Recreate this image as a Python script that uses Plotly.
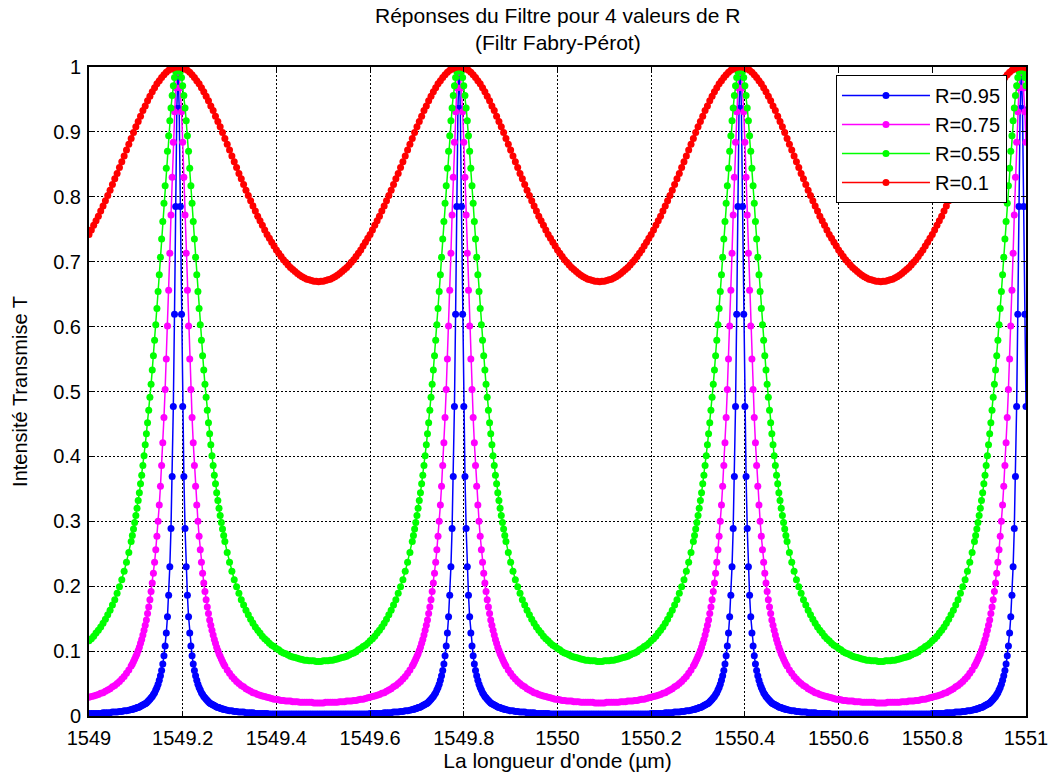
import plotly.graph_objects as go

# ---------------- data ----------------
lambda_start = 1549.0      # µm
lambda_step = 0.005        # µm between regular samples
n_points = 401
wavelength = [round(lambda_start + i * lambda_step, 4) for i in range(n_points)]

series_labels = ["R=0.95", "R=0.75", "R=0.55", "R=0.1"]
series_colors = ["#0000FF", "#FF00FF", "#00FF00", "#FF0000"]

# transmission on the regular grid
T_R095 = [
    0.004, 0.004, 0.004, 0.004, 0.004, 0.004, 0.005, 0.005, 0.005, 0.005,
    0.006, 0.006, 0.006, 0.007, 0.007, 0.008, 0.008, 0.009, 0.010, 0.011,
    0.012, 0.013, 0.015, 0.017, 0.019, 0.022, 0.026, 0.030, 0.036, 0.044,
    0.055, 0.070, 0.093, 0.128, 0.186, 0.289, 0.477, 0.785, 1.000,
    0.785, 0.477, 0.289, 0.186, 0.128, 0.093, 0.070, 0.055, 0.044, 0.036,
    0.030, 0.026, 0.022, 0.019, 0.017, 0.015, 0.013, 0.012, 0.011, 0.010,
    0.009, 0.008, 0.008, 0.007, 0.007, 0.006, 0.006, 0.006, 0.005, 0.005,
    0.005, 0.005, 0.004, 0.004, 0.004, 0.004, 0.004, 0.004, 0.003, 0.003,
    0.003, 0.003, 0.003, 0.003, 0.003, 0.003, 0.003, 0.003, 0.003, 0.003,
    0.003, 0.003, 0.003, 0.003, 0.003, 0.003, 0.003, 0.003, 0.003, 0.003,
    0.003, 0.003, 0.003, 0.003, 0.003, 0.003, 0.003, 0.003, 0.003, 0.003,
    0.003, 0.003, 0.003, 0.003, 0.003, 0.003, 0.003, 0.003, 0.003, 0.003,
    0.003, 0.004, 0.004, 0.004, 0.004, 0.004, 0.004, 0.005, 0.005, 0.005,
    0.005, 0.006, 0.006, 0.006, 0.007, 0.007, 0.008, 0.008, 0.009, 0.010,
    0.011, 0.012, 0.013, 0.015, 0.017, 0.019, 0.022, 0.026, 0.030, 0.036,
    0.044, 0.055, 0.070, 0.093, 0.128, 0.186, 0.289, 0.477, 0.785, 1.000,
    0.785, 0.477, 0.289, 0.186, 0.128, 0.093, 0.070, 0.055, 0.044, 0.036,
    0.030, 0.026, 0.022, 0.019, 0.017, 0.015, 0.013, 0.012, 0.011, 0.010,
    0.009, 0.008, 0.008, 0.007, 0.007, 0.006, 0.006, 0.006, 0.005, 0.005,
    0.005, 0.005, 0.004, 0.004, 0.004, 0.004, 0.004, 0.004, 0.003, 0.003,
    0.003, 0.003, 0.003, 0.003, 0.003, 0.003, 0.003, 0.003, 0.003, 0.003,
    0.003, 0.003, 0.003, 0.003, 0.003, 0.003, 0.003, 0.003, 0.003, 0.003,
    0.003, 0.003, 0.003, 0.003, 0.003, 0.003, 0.003, 0.003, 0.003, 0.003,
    0.003, 0.003, 0.003, 0.003, 0.003, 0.003, 0.003, 0.003, 0.003, 0.003,
    0.003, 0.004, 0.004, 0.004, 0.004, 0.004, 0.004, 0.005, 0.005, 0.005,
    0.005, 0.006, 0.006, 0.006, 0.007, 0.007, 0.008, 0.008, 0.009, 0.010,
    0.011, 0.012, 0.013, 0.015, 0.017, 0.019, 0.022, 0.026, 0.030, 0.036,
    0.044, 0.055, 0.070, 0.093, 0.128, 0.186, 0.289, 0.477, 0.785, 1.000,
    0.785, 0.477, 0.289, 0.186, 0.128, 0.093, 0.070, 0.055, 0.044, 0.036,
    0.030, 0.026, 0.022, 0.019, 0.017, 0.015, 0.013, 0.012, 0.011, 0.010,
    0.009, 0.008, 0.008, 0.007, 0.007, 0.006, 0.006, 0.006, 0.005, 0.005,
    0.005, 0.005, 0.004, 0.004, 0.004, 0.004, 0.004, 0.004, 0.003, 0.003,
    0.003, 0.003, 0.003, 0.003, 0.003, 0.003, 0.003, 0.003, 0.003, 0.003,
    0.003, 0.003, 0.003, 0.003, 0.003, 0.003, 0.003, 0.003, 0.003, 0.003,
    0.003, 0.003, 0.003, 0.003, 0.003, 0.003, 0.003, 0.003, 0.003, 0.003,
    0.003, 0.003, 0.003, 0.003, 0.003, 0.003, 0.003, 0.003, 0.003, 0.003,
    0.003, 0.004, 0.004, 0.004, 0.004, 0.004, 0.004, 0.005, 0.005, 0.005,
    0.005, 0.006, 0.006, 0.006, 0.007, 0.007, 0.008, 0.008, 0.009, 0.010,
    0.011, 0.012, 0.013, 0.015, 0.017, 0.019, 0.022, 0.026, 0.030, 0.036,
    0.044, 0.055, 0.070, 0.093, 0.128, 0.186, 0.289, 0.477, 0.785, 1.000,
    0.785, 0.477,
]

T_R075 = [
    0.029, 0.030, 0.031, 0.032, 0.033, 0.035, 0.036, 0.038, 0.040, 0.042,
    0.045, 0.047, 0.050, 0.053, 0.057, 0.061, 0.066, 0.071, 0.077, 0.084,
    0.092, 0.101, 0.112, 0.125, 0.140, 0.158, 0.179, 0.205, 0.237, 0.277,
    0.325, 0.386, 0.460, 0.550, 0.656, 0.772, 0.884, 0.968, 1.000,
    0.968, 0.884, 0.772, 0.656, 0.550, 0.460, 0.386, 0.325, 0.277, 0.237,
    0.205, 0.179, 0.158, 0.140, 0.125, 0.112, 0.101, 0.092, 0.084, 0.077,
    0.071, 0.066, 0.061, 0.057, 0.053, 0.050, 0.047, 0.045, 0.042, 0.040,
    0.038, 0.036, 0.035, 0.033, 0.032, 0.031, 0.030, 0.029, 0.028, 0.027,
    0.026, 0.026, 0.025, 0.024, 0.024, 0.023, 0.023, 0.023, 0.022, 0.022,
    0.022, 0.021, 0.021, 0.021, 0.021, 0.021, 0.021, 0.020, 0.020, 0.020,
    0.020, 0.020, 0.021, 0.021, 0.021, 0.021, 0.021, 0.021, 0.022, 0.022,
    0.022, 0.023, 0.023, 0.023, 0.024, 0.024, 0.025, 0.026, 0.026, 0.027,
    0.028, 0.029, 0.030, 0.031, 0.032, 0.033, 0.035, 0.036, 0.038, 0.040,
    0.042, 0.045, 0.047, 0.050, 0.053, 0.057, 0.061, 0.066, 0.071, 0.077,
    0.084, 0.092, 0.101, 0.112, 0.125, 0.140, 0.158, 0.179, 0.205, 0.237,
    0.277, 0.325, 0.386, 0.460, 0.550, 0.656, 0.772, 0.884, 0.968, 1.000,
    0.968, 0.884, 0.772, 0.656, 0.550, 0.460, 0.386, 0.325, 0.277, 0.237,
    0.205, 0.179, 0.158, 0.140, 0.125, 0.112, 0.101, 0.092, 0.084, 0.077,
    0.071, 0.066, 0.061, 0.057, 0.053, 0.050, 0.047, 0.045, 0.042, 0.040,
    0.038, 0.036, 0.035, 0.033, 0.032, 0.031, 0.030, 0.029, 0.028, 0.027,
    0.026, 0.026, 0.025, 0.024, 0.024, 0.023, 0.023, 0.023, 0.022, 0.022,
    0.022, 0.021, 0.021, 0.021, 0.021, 0.021, 0.021, 0.020, 0.020, 0.020,
    0.020, 0.020, 0.021, 0.021, 0.021, 0.021, 0.021, 0.021, 0.022, 0.022,
    0.022, 0.023, 0.023, 0.023, 0.024, 0.024, 0.025, 0.026, 0.026, 0.027,
    0.028, 0.029, 0.030, 0.031, 0.032, 0.033, 0.035, 0.036, 0.038, 0.040,
    0.042, 0.045, 0.047, 0.050, 0.053, 0.057, 0.061, 0.066, 0.071, 0.077,
    0.084, 0.092, 0.101, 0.112, 0.125, 0.140, 0.158, 0.179, 0.205, 0.237,
    0.277, 0.325, 0.386, 0.460, 0.550, 0.656, 0.772, 0.884, 0.968, 1.000,
    0.968, 0.884, 0.772, 0.656, 0.550, 0.460, 0.386, 0.325, 0.277, 0.237,
    0.205, 0.179, 0.158, 0.140, 0.125, 0.112, 0.101, 0.092, 0.084, 0.077,
    0.071, 0.066, 0.061, 0.057, 0.053, 0.050, 0.047, 0.045, 0.042, 0.040,
    0.038, 0.036, 0.035, 0.033, 0.032, 0.031, 0.030, 0.029, 0.028, 0.027,
    0.026, 0.026, 0.025, 0.024, 0.024, 0.023, 0.023, 0.023, 0.022, 0.022,
    0.022, 0.021, 0.021, 0.021, 0.021, 0.021, 0.021, 0.020, 0.020, 0.020,
    0.020, 0.020, 0.021, 0.021, 0.021, 0.021, 0.021, 0.021, 0.022, 0.022,
    0.022, 0.023, 0.023, 0.023, 0.024, 0.024, 0.025, 0.026, 0.026, 0.027,
    0.028, 0.029, 0.030, 0.031, 0.032, 0.033, 0.035, 0.036, 0.038, 0.040,
    0.042, 0.045, 0.047, 0.050, 0.053, 0.057, 0.061, 0.066, 0.071, 0.077,
    0.084, 0.092, 0.101, 0.112, 0.125, 0.140, 0.158, 0.179, 0.205, 0.237,
    0.277, 0.325, 0.386, 0.460, 0.550, 0.656, 0.772, 0.884, 0.968, 1.000,
    0.968, 0.884,
]

T_R055 = [
    0.116, 0.119, 0.123, 0.128, 0.132, 0.137, 0.143, 0.149, 0.156, 0.163,
    0.171, 0.179, 0.189, 0.199, 0.210, 0.223, 0.237, 0.252, 0.269, 0.288,
    0.309, 0.332, 0.358, 0.386, 0.418, 0.452, 0.491, 0.533, 0.579, 0.628,
    0.680, 0.735, 0.790, 0.844, 0.894, 0.937, 0.971, 0.993, 1.000,
    0.993, 0.971, 0.937, 0.894, 0.844, 0.790, 0.735, 0.680, 0.628, 0.579,
    0.533, 0.491, 0.452, 0.418, 0.386, 0.358, 0.332, 0.309, 0.288, 0.269,
    0.252, 0.237, 0.223, 0.210, 0.199, 0.189, 0.179, 0.171, 0.163, 0.156,
    0.149, 0.143, 0.137, 0.132, 0.128, 0.123, 0.119, 0.116, 0.112, 0.109,
    0.107, 0.104, 0.102, 0.099, 0.097, 0.096, 0.094, 0.092, 0.091, 0.090,
    0.089, 0.088, 0.087, 0.086, 0.086, 0.085, 0.085, 0.085, 0.084, 0.084,
    0.084, 0.085, 0.085, 0.085, 0.086, 0.086, 0.087, 0.088, 0.089, 0.090,
    0.091, 0.092, 0.094, 0.096, 0.097, 0.099, 0.102, 0.104, 0.107, 0.109,
    0.112, 0.116, 0.119, 0.123, 0.128, 0.132, 0.137, 0.143, 0.149, 0.156,
    0.163, 0.171, 0.179, 0.189, 0.199, 0.210, 0.223, 0.237, 0.252, 0.269,
    0.288, 0.309, 0.332, 0.358, 0.386, 0.418, 0.452, 0.491, 0.533, 0.579,
    0.628, 0.680, 0.735, 0.790, 0.844, 0.894, 0.937, 0.971, 0.993, 1.000,
    0.993, 0.971, 0.937, 0.894, 0.844, 0.790, 0.735, 0.680, 0.628, 0.579,
    0.533, 0.491, 0.452, 0.418, 0.386, 0.358, 0.332, 0.309, 0.288, 0.269,
    0.252, 0.237, 0.223, 0.210, 0.199, 0.189, 0.179, 0.171, 0.163, 0.156,
    0.149, 0.143, 0.137, 0.132, 0.128, 0.123, 0.119, 0.116, 0.112, 0.109,
    0.107, 0.104, 0.102, 0.099, 0.097, 0.096, 0.094, 0.092, 0.091, 0.090,
    0.089, 0.088, 0.087, 0.086, 0.086, 0.085, 0.085, 0.085, 0.084, 0.084,
    0.084, 0.085, 0.085, 0.085, 0.086, 0.086, 0.087, 0.088, 0.089, 0.090,
    0.091, 0.092, 0.094, 0.096, 0.097, 0.099, 0.102, 0.104, 0.107, 0.109,
    0.112, 0.116, 0.119, 0.123, 0.128, 0.132, 0.137, 0.143, 0.149, 0.156,
    0.163, 0.171, 0.179, 0.189, 0.199, 0.210, 0.223, 0.237, 0.252, 0.269,
    0.288, 0.309, 0.332, 0.358, 0.386, 0.418, 0.452, 0.491, 0.533, 0.579,
    0.628, 0.680, 0.735, 0.790, 0.844, 0.894, 0.937, 0.971, 0.993, 1.000,
    0.993, 0.971, 0.937, 0.894, 0.844, 0.790, 0.735, 0.680, 0.628, 0.579,
    0.533, 0.491, 0.452, 0.418, 0.386, 0.358, 0.332, 0.309, 0.288, 0.269,
    0.252, 0.237, 0.223, 0.210, 0.199, 0.189, 0.179, 0.171, 0.163, 0.156,
    0.149, 0.143, 0.137, 0.132, 0.128, 0.123, 0.119, 0.116, 0.112, 0.109,
    0.107, 0.104, 0.102, 0.099, 0.097, 0.096, 0.094, 0.092, 0.091, 0.090,
    0.089, 0.088, 0.087, 0.086, 0.086, 0.085, 0.085, 0.085, 0.084, 0.084,
    0.084, 0.085, 0.085, 0.085, 0.086, 0.086, 0.087, 0.088, 0.089, 0.090,
    0.091, 0.092, 0.094, 0.096, 0.097, 0.099, 0.102, 0.104, 0.107, 0.109,
    0.112, 0.116, 0.119, 0.123, 0.128, 0.132, 0.137, 0.143, 0.149, 0.156,
    0.163, 0.171, 0.179, 0.189, 0.199, 0.210, 0.223, 0.237, 0.252, 0.269,
    0.288, 0.309, 0.332, 0.358, 0.386, 0.418, 0.452, 0.491, 0.533, 0.579,
    0.628, 0.680, 0.735, 0.790, 0.844, 0.894, 0.937, 0.971, 0.993, 1.000,
    0.993, 0.971,
]

T_R010 = [
    0.742, 0.749, 0.756, 0.763, 0.770, 0.778, 0.786, 0.794, 0.802, 0.810,
    0.819, 0.828, 0.836, 0.845, 0.854, 0.863, 0.872, 0.881, 0.890, 0.899,
    0.908, 0.916, 0.924, 0.933, 0.940, 0.948, 0.955, 0.962, 0.968, 0.974,
    0.979, 0.984, 0.988, 0.992, 0.995, 0.997, 0.999, 1.000, 1.000,
    1.000, 0.999, 0.997, 0.995, 0.992, 0.988, 0.984, 0.979, 0.974, 0.968,
    0.962, 0.955, 0.948, 0.940, 0.933, 0.924, 0.916, 0.908, 0.899, 0.890,
    0.881, 0.872, 0.863, 0.854, 0.845, 0.836, 0.828, 0.819, 0.810, 0.802,
    0.794, 0.786, 0.778, 0.770, 0.763, 0.756, 0.749, 0.742, 0.736, 0.730,
    0.724, 0.718, 0.713, 0.708, 0.703, 0.699, 0.695, 0.691, 0.688, 0.685,
    0.682, 0.679, 0.677, 0.675, 0.673, 0.672, 0.671, 0.670, 0.670, 0.669,
    0.670, 0.670, 0.671, 0.672, 0.673, 0.675, 0.677, 0.679, 0.682, 0.685,
    0.688, 0.691, 0.695, 0.699, 0.703, 0.708, 0.713, 0.718, 0.724, 0.730,
    0.736, 0.742, 0.749, 0.756, 0.763, 0.770, 0.778, 0.786, 0.794, 0.802,
    0.810, 0.819, 0.828, 0.836, 0.845, 0.854, 0.863, 0.872, 0.881, 0.890,
    0.899, 0.908, 0.916, 0.924, 0.933, 0.940, 0.948, 0.955, 0.962, 0.968,
    0.974, 0.979, 0.984, 0.988, 0.992, 0.995, 0.997, 0.999, 1.000, 1.000,
    1.000, 0.999, 0.997, 0.995, 0.992, 0.988, 0.984, 0.979, 0.974, 0.968,
    0.962, 0.955, 0.948, 0.940, 0.933, 0.924, 0.916, 0.908, 0.899, 0.890,
    0.881, 0.872, 0.863, 0.854, 0.845, 0.836, 0.828, 0.819, 0.810, 0.802,
    0.794, 0.786, 0.778, 0.770, 0.763, 0.756, 0.749, 0.742, 0.736, 0.730,
    0.724, 0.718, 0.713, 0.708, 0.703, 0.699, 0.695, 0.691, 0.688, 0.685,
    0.682, 0.679, 0.677, 0.675, 0.673, 0.672, 0.671, 0.670, 0.670, 0.669,
    0.670, 0.670, 0.671, 0.672, 0.673, 0.675, 0.677, 0.679, 0.682, 0.685,
    0.688, 0.691, 0.695, 0.699, 0.703, 0.708, 0.713, 0.718, 0.724, 0.730,
    0.736, 0.742, 0.749, 0.756, 0.763, 0.770, 0.778, 0.786, 0.794, 0.802,
    0.810, 0.819, 0.828, 0.836, 0.845, 0.854, 0.863, 0.872, 0.881, 0.890,
    0.899, 0.908, 0.916, 0.924, 0.933, 0.940, 0.948, 0.955, 0.962, 0.968,
    0.974, 0.979, 0.984, 0.988, 0.992, 0.995, 0.997, 0.999, 1.000, 1.000,
    1.000, 0.999, 0.997, 0.995, 0.992, 0.988, 0.984, 0.979, 0.974, 0.968,
    0.962, 0.955, 0.948, 0.940, 0.933, 0.924, 0.916, 0.908, 0.899, 0.890,
    0.881, 0.872, 0.863, 0.854, 0.845, 0.836, 0.828, 0.819, 0.810, 0.802,
    0.794, 0.786, 0.778, 0.770, 0.763, 0.756, 0.749, 0.742, 0.736, 0.730,
    0.724, 0.718, 0.713, 0.708, 0.703, 0.699, 0.695, 0.691, 0.688, 0.685,
    0.682, 0.679, 0.677, 0.675, 0.673, 0.672, 0.671, 0.670, 0.670, 0.669,
    0.670, 0.670, 0.671, 0.672, 0.673, 0.675, 0.677, 0.679, 0.682, 0.685,
    0.688, 0.691, 0.695, 0.699, 0.703, 0.708, 0.713, 0.718, 0.724, 0.730,
    0.736, 0.742, 0.749, 0.756, 0.763, 0.770, 0.778, 0.786, 0.794, 0.802,
    0.810, 0.819, 0.828, 0.836, 0.845, 0.854, 0.863, 0.872, 0.881, 0.890,
    0.899, 0.908, 0.916, 0.924, 0.933, 0.940, 0.948, 0.955, 0.962, 0.968,
    0.974, 0.979, 0.984, 0.988, 0.992, 0.995, 0.997, 0.999, 1.000, 1.000,
    1.000, 0.999,
]

# extra samples read on the steep flanks around each transmission peak
peak_wavelength = [1549.19, 1549.79, 1550.39, 1550.99]
flank_offsets = [0.0025, 0.0075, 0.0125, 0.0175, 0.0225, 0.0275, 0.0325, 0.0375, 0.0425, 0.0475,
                 0.0525, 0.0575, 0.0625, 0.0675, 0.0725, 0.0775, 0.0825, 0.0875, 0.0925, 0.0975]

flank_T_R095 = [
    0.010, 0.011, 0.013, 0.014, 0.016, 0.018, 0.020, 0.024, 0.028, 0.033, 0.040, 0.049, 0.062, 0.080, 0.108, 0.153, 0.230, 0.369, 0.619, 0.936,
    0.936, 0.619, 0.369, 0.230, 0.153, 0.108, 0.080, 0.062, 0.049, 0.040, 0.033, 0.028, 0.024, 0.020, 0.018, 0.016, 0.014, 0.013, 0.011, 0.010,
    0.010, 0.011, 0.013, 0.014, 0.016, 0.018, 0.020, 0.024, 0.028, 0.033, 0.040, 0.049, 0.062, 0.080, 0.108, 0.153, 0.230, 0.369, 0.619, 0.936,
    0.936, 0.619, 0.369, 0.230, 0.153, 0.108, 0.080, 0.062, 0.049, 0.040, 0.033, 0.028, 0.024, 0.020, 0.018, 0.016, 0.014, 0.013, 0.011, 0.010,
    0.010, 0.011, 0.013, 0.014, 0.016, 0.018, 0.020, 0.024, 0.028, 0.033, 0.040, 0.049, 0.062, 0.080, 0.108, 0.153, 0.230, 0.369, 0.619, 0.936,
    0.936, 0.619, 0.369, 0.230, 0.153, 0.108, 0.080, 0.062, 0.049, 0.040, 0.033, 0.028, 0.024, 0.020, 0.018, 0.016, 0.014, 0.013, 0.011, 0.010,
    0.010, 0.011, 0.013, 0.014, 0.016, 0.018, 0.020, 0.024, 0.028, 0.033, 0.040, 0.049, 0.062, 0.080, 0.108, 0.153, 0.230, 0.369, 0.619, 0.936,
    0.936, 0.619, 0.369, 0.230, 0.153, 0.108, 0.080, 0.062, 0.049, 0.040, 0.033, 0.028, 0.024, 0.020, 0.018, 0.016, 0.014, 0.013, 0.011, 0.010,
]
flank_T_R075 = [
    0.080, 0.088, 0.096, 0.106, 0.118, 0.132, 0.148, 0.168, 0.192, 0.220, 0.256, 0.300, 0.354, 0.421, 0.503, 0.601, 0.713, 0.830, 0.931, 0.992,
    0.992, 0.931, 0.830, 0.713, 0.601, 0.503, 0.421, 0.354, 0.300, 0.256, 0.220, 0.192, 0.168, 0.148, 0.132, 0.118, 0.106, 0.096, 0.088, 0.080,
    0.080, 0.088, 0.096, 0.106, 0.118, 0.132, 0.148, 0.168, 0.192, 0.220, 0.256, 0.300, 0.354, 0.421, 0.503, 0.601, 0.713, 0.830, 0.931, 0.992,
    0.992, 0.931, 0.830, 0.713, 0.601, 0.503, 0.421, 0.354, 0.300, 0.256, 0.220, 0.192, 0.168, 0.148, 0.132, 0.118, 0.106, 0.096, 0.088, 0.080,
    0.080, 0.088, 0.096, 0.106, 0.118, 0.132, 0.148, 0.168, 0.192, 0.220, 0.256, 0.300, 0.354, 0.421, 0.503, 0.601, 0.713, 0.830, 0.931, 0.992,
    0.992, 0.931, 0.830, 0.713, 0.601, 0.503, 0.421, 0.354, 0.300, 0.256, 0.220, 0.192, 0.168, 0.148, 0.132, 0.118, 0.106, 0.096, 0.088, 0.080,
    0.080, 0.088, 0.096, 0.106, 0.118, 0.132, 0.148, 0.168, 0.192, 0.220, 0.256, 0.300, 0.354, 0.421, 0.503, 0.601, 0.713, 0.830, 0.931, 0.992,
    0.992, 0.931, 0.830, 0.713, 0.601, 0.503, 0.421, 0.354, 0.300, 0.256, 0.220, 0.192, 0.168, 0.148, 0.132, 0.118, 0.106, 0.096, 0.088, 0.080,
]
flank_T_R055 = [
    0.278, 0.298, 0.320, 0.344, 0.371, 0.401, 0.435, 0.471, 0.511, 0.555, 0.603, 0.654, 0.707, 0.762, 0.817, 0.870, 0.917, 0.956, 0.984, 0.998,
    0.998, 0.984, 0.956, 0.917, 0.870, 0.817, 0.762, 0.707, 0.654, 0.603, 0.555, 0.511, 0.471, 0.435, 0.401, 0.371, 0.344, 0.320, 0.298, 0.278,
    0.278, 0.298, 0.320, 0.344, 0.371, 0.401, 0.435, 0.471, 0.511, 0.555, 0.603, 0.654, 0.707, 0.762, 0.817, 0.870, 0.917, 0.956, 0.984, 0.998,
    0.998, 0.984, 0.956, 0.917, 0.870, 0.817, 0.762, 0.707, 0.654, 0.603, 0.555, 0.511, 0.471, 0.435, 0.401, 0.371, 0.344, 0.320, 0.298, 0.278,
    0.278, 0.298, 0.320, 0.344, 0.371, 0.401, 0.435, 0.471, 0.511, 0.555, 0.603, 0.654, 0.707, 0.762, 0.817, 0.870, 0.917, 0.956, 0.984, 0.998,
    0.998, 0.984, 0.956, 0.917, 0.870, 0.817, 0.762, 0.707, 0.654, 0.603, 0.555, 0.511, 0.471, 0.435, 0.401, 0.371, 0.344, 0.320, 0.298, 0.278,
    0.278, 0.298, 0.320, 0.344, 0.371, 0.401, 0.435, 0.471, 0.511, 0.555, 0.603, 0.654, 0.707, 0.762, 0.817, 0.870, 0.917, 0.956, 0.984, 0.998,
    0.998, 0.984, 0.956, 0.917, 0.870, 0.817, 0.762, 0.707, 0.654, 0.603, 0.555, 0.511, 0.471, 0.435, 0.401, 0.371, 0.344, 0.320, 0.298, 0.278,
]

x_tick_values = [1549, 1549.2, 1549.4, 1549.6, 1549.8, 1550, 1550.2, 1550.4, 1550.6, 1550.8, 1551]
x_tick_labels = ["1549", "1549.2", "1549.4", "1549.6", "1549.8", "1550",
                 "1550.2", "1550.4", "1550.6", "1550.8", "1551"]
y_tick_values = [0, 0.1, 0.2, 0.3, 0.4, 0.5, 0.6, 0.7, 0.8, 0.9, 1]
y_tick_labels = ["0", "0.1", "0.2", "0.3", "0.4", "0.5", "0.6", "0.7", "0.8", "0.9", "1"]

title_line1 = "Réponses du Filtre pour 4 valeurs de R"
title_line2 = "(Filtr Fabry-Pérot)"
x_title = "La longueur d'onde (µm)"
y_title = "Intensité Transmise T"

# ---------------- assemble samples ----------------
flank_wl = []
for p in peak_wavelength:
    flank_wl += [round(p - o, 4) for o in reversed(flank_offsets)]
    flank_wl += [round(p + o, 4) for o in flank_offsets]

X_MAX = 1551.0


def merged(base_y, flank_y):
    pairs = sorted(zip(wavelength + flank_wl, base_y + flank_y))
    pairs = [p for p in pairs if p[0] <= X_MAX + 1e-9]
    return [p[0] for p in pairs], [p[1] for p in pairs]


bx, by = merged(T_R095, flank_T_R095)
mx, my = merged(T_R075, flank_T_R075)
gx, gy = merged(T_R055, flank_T_R055)

series_x = [bx, mx, gx, wavelength]
series_y = [by, my, gy, T_R010]

# ---------------- figure ----------------
FONT = "Liberation Sans, Arial, Helvetica, sans-serif"

fig = go.Figure()
for lab, col, xs, ys in zip(series_labels, series_colors, series_x, series_y):
    fig.add_trace(go.Scatter(
        x=xs, y=ys, mode="lines+markers", name=lab,
        line=dict(color=col, width=1.5),
        marker=dict(color=col, size=7, symbol="circle"),
    ))

grid_dash = "2px,2px"
fig.update_xaxes(
    range=[1549, 1551], tickmode="array", tickvals=x_tick_values, ticktext=x_tick_labels,
    showgrid=True, gridcolor="black", gridwidth=1, griddash=grid_dash,
    showline=True, linecolor="black", linewidth=2, mirror="ticks",
    ticks="inside", ticklen=5, tickcolor="black", zeroline=False, automargin=False,
    tickfont=dict(family=FONT, size=20, color="black"), ticklabelstandoff=3,
    title=dict(text=x_title, font=dict(family=FONT, size=21, color="black"), standoff=4),
)
fig.update_yaxes(
    range=[0, 1], tickmode="array", tickvals=y_tick_values, ticktext=y_tick_labels,
    showgrid=True, gridcolor="black", gridwidth=1, griddash=grid_dash,
    showline=True, linecolor="black", linewidth=2, mirror="ticks",
    ticks="inside", ticklen=5, tickcolor="black", zeroline=False, automargin=False,
    tickfont=dict(family=FONT, size=20, color="black"), ticklabelstandoff=2,
    title=dict(text=y_title, font=dict(family=FONT, size=20, color="black"), standoff=20),
)

fig.update_layout(
    width=1053, height=776,
    margin=dict(l=89, r=27, t=67, b=60),
    paper_bgcolor="white", plot_bgcolor="white",
    font=dict(family=FONT, size=20, color="black"),
    showlegend=True,
    legend=dict(
        x=0.9797, y=0.9877, xanchor="right", yanchor="top",
        bgcolor="white", bordercolor="black", borderwidth=1,
        font=dict(family=FONT, size=20, color="black"),
        traceorder="normal", itemwidth=88,
    ),
    annotations=[
        dict(text=title_line1, x=0.5, y=1.0786, xref="paper", yref="paper",
             xanchor="center", yanchor="middle", showarrow=False,
             font=dict(family=FONT, size=21, color="black")),
        dict(text=title_line2, x=0.5, y=1.0385, xref="paper", yref="paper",
             xanchor="center", yanchor="middle", showarrow=False,
             font=dict(family=FONT, size=21, color="black")),
    ],
)

fig.write_html(
    "out.html",
    config={"displayModeBar": False},
    post_script="document.body.style.margin='0px';",
)
